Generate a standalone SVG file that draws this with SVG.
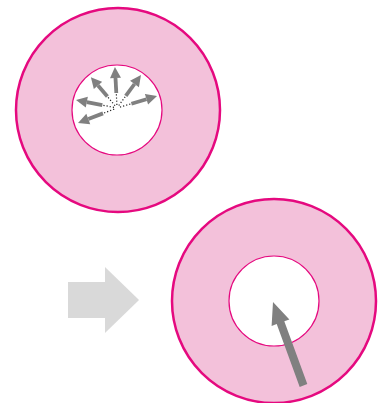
<svg xmlns="http://www.w3.org/2000/svg" width="379" height="403" viewBox="0 0 379 403">
<defs>
<style>
.ring{fill:#f3c1da;stroke:#e5097f;stroke-width:2.5}
.hole{fill:#fff;stroke:#e5097f;stroke-width:1.2}
.shaft{stroke:#808080;stroke-width:3.8;fill:none}
.dots{stroke:#222;stroke-width:1.2;stroke-dasharray:1.2 2;fill:none}
</style>
<marker id="ah" markerUnits="userSpaceOnUse" markerWidth="12" markerHeight="12" viewBox="0 -6 11 12" refX="0" refY="0" orient="auto">
<path d="M0,-5.5 L11,0 L0,5.5 z" fill="#808080"/>
</marker>
</defs>
<g id="top-disc">
<circle class="ring" cx="118" cy="110" r="102"/>
<circle class="hole" cx="117" cy="110" r="45"/>
</g>
<g id="bottom-disc">
<circle class="ring" cx="274" cy="301" r="102"/>
<circle class="hole" cx="274" cy="301" r="45"/>
</g>
<g id="transition-arrow" fill="#d9d9d9">
<rect x="68" y="282" width="37.5" height="36"/>
<polygon points="105,267 139,300 105,333"/>
</g>
<g id="connectors">
<g class="dots">
<line x1="116.9" y1="105" x2="116.3" y2="93"/>
<line x1="115" y1="105.7" x2="107.4" y2="96.5"/>
<line x1="118.8" y1="105.5" x2="125.8" y2="95.9"/>
<line x1="114" y1="107.4" x2="102.3" y2="105.1"/>
<line x1="120" y1="107.1" x2="131.4" y2="103.7"/>
<line x1="114.2" y1="109.1" x2="103" y2="113.4"/>
</g>
<line class="shaft" x1="116.3" y1="93" x2="115.5" y2="78" marker-end="url(#ah)"/>
<line class="shaft" x1="107.4" y1="96.5" x2="98" y2="85.5" marker-end="url(#ah)"/>
<line class="shaft" x1="125.8" y1="95.9" x2="134.5" y2="84" marker-end="url(#ah)"/>
<line class="shaft" x1="102.3" y1="105.1" x2="86.8" y2="102.1" marker-end="url(#ah)"/>
<line class="shaft" x1="131.4" y1="103.7" x2="146.5" y2="99.2" marker-end="url(#ah)"/>
<line class="shaft" x1="103" y1="113.4" x2="88.3" y2="119" marker-end="url(#ah)"/>
<polygon fill="#808080" points="273,302 289.4,319.4 284.3,321.3 307.3,384.1 299.7,386.9 276.7,324.1 271.6,326"/>
</g>
</svg>
